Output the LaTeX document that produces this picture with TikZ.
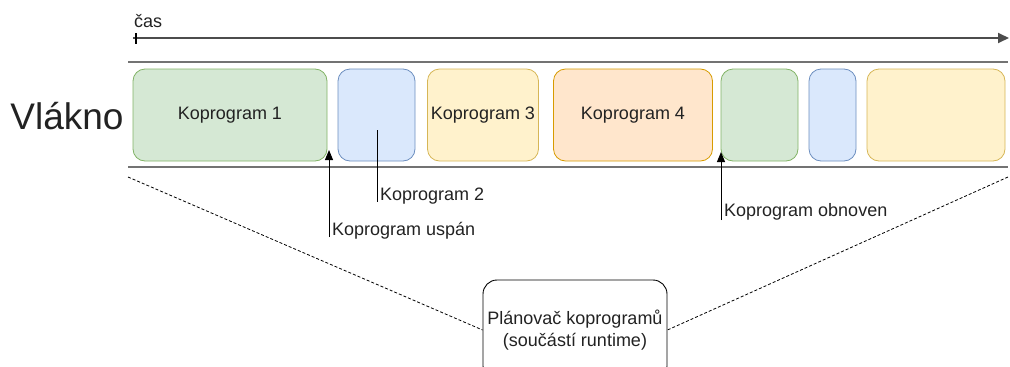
\documentclass[tikz,border=0pt]{standalone}
\usepackage{fontspec}
\setmainfont{Liberation Sans}
\usetikzlibrary{arrows.meta}
\definecolor{gfill}{HTML}{D5E8D4}\definecolor{gdraw}{HTML}{82B366}
\definecolor{bfill}{HTML}{DAE8FC}\definecolor{bdraw}{HTML}{6C8EBF}
\definecolor{yfill}{HTML}{FFF2CC}\definecolor{ydraw}{HTML}{D6B656}
\definecolor{ofill}{HTML}{FFE6CC}\definecolor{odraw}{HTML}{D79B00}
\definecolor{txt}{HTML}{222222}
\begin{document}
\begin{tikzpicture}[x=1pt,y=-1pt,
  lbl/.style={font=\fontsize{18}{21}\selectfont,text=txt,inner sep=0pt},
  kbox/.style={rounded corners=12pt,line width=0.8pt,inner sep=0pt,lbl,minimum height=92pt},
  thread/.style={draw=black!55,line width=2.8pt},
  pointer/.style={draw=black,line width=1pt},
  tip/.style={-{Triangle[length=10pt,width=8pt]}}
]
\useasboundingbox (0,0) rectangle (1010,367);
\clip (0,0) rectangle (1010,367);
% time axis
\coordinate (t0) at (133,38);
\coordinate (t1) at (1009,38);
\draw[line width=1.8pt,draw=black!70,-{Triangle[length=11pt,width=10pt]}] (t0) -- (t1);
\draw[line width=1.2pt] (136,33) -- (136,44);
\node[lbl,anchor=west] (cas) at (134,21) {čas};
% thread lines
\coordinate (tl0) at (128,62);\coordinate (tl1) at (1008,62);
\coordinate (bl0) at (128,167);\coordinate (bl1) at (1008,167);
\draw[thread] (tl0) -- (tl1);
\draw[thread] (bl0) -- (bl1);
\node[font=\fontsize{37}{41}\selectfont,text=txt,inner sep=0pt] (vl) at (67,116) {Vlákno};
% coroutine boxes
\node[kbox,fill=gfill,draw=gdraw,minimum width=194pt] (k1) at (230,115) {Koprogram 1};
\node[kbox,fill=bfill,draw=bdraw,minimum width=77pt] (k2) at (376.5,115) {};
\node[kbox,fill=yfill,draw=ydraw,minimum width=111pt] (k3) at (483,115) {Koprogram 3};
\node[kbox,fill=ofill,draw=odraw,minimum width=159pt] (k4) at (633,115) {Koprogram 4};
\node[kbox,fill=gfill,draw=gdraw,minimum width=77pt] (k5) at (759.5,115) {};
\node[kbox,fill=bfill,draw=bdraw,minimum width=47pt] (k6) at (832.5,115) {};
\node[kbox,fill=yfill,draw=ydraw,minimum width=138pt] (k7) at (936,115) {};
% pointers
\coordinate (u0) at (329,237);\coordinate (u1) at (329,150);
\draw[pointer,tip] (u0) -- (u1);
\node[lbl,anchor=west] (usp) at (332,231) {Koprogram uspán};
\coordinate (k2a) at (377,130);\coordinate (k2b) at (377,202);
\draw[pointer] (k2a) -- (k2b);
\node[lbl,anchor=west] (k2l) at (380,196) {Koprogram 2};
\coordinate (o0) at (721,220);\coordinate (o1) at (721,152);
\draw[pointer,tip] (o0) -- (o1);
\node[lbl,anchor=west] (obn) at (724,212) {Koprogram obnoven};
% scheduler
\node[draw=black,line width=0.9pt,rounded corners=14pt,minimum width=184pt,minimum height=100pt,inner sep=0pt,align=center,lbl] (sch) at (575,330) {Plánovač koprogramů\\[1pt](součástí runtime)};
\coordinate (d0) at (128,177);\coordinate (d1) at (1008,177);
\draw[line width=0.8pt,dash pattern=on 3pt off 2pt] (d0) -- (sch.west);
\draw[line width=0.8pt,dash pattern=on 3pt off 2pt] (d1) -- (sch.east);
\end{tikzpicture}
\end{document}
